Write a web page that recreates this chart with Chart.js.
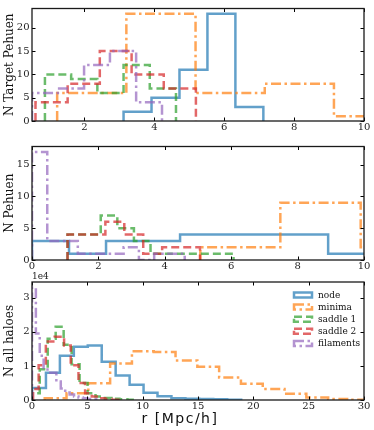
<!DOCTYPE html>
<html>
<head>
<meta charset="utf-8">
<script src="https://cdn.jsdelivr.net/npm/chart.js@4.4.1/dist/chart.umd.min.js"></script>
<style>
  html, body { margin: 0; padding: 0; background: #fff; }
  #wrap { position: relative; width: 374px; height: 430px; overflow: hidden; }
  canvas { position: absolute; left: 0; }
</style>
</head>
<body>
<div id="wrap">
  <canvas id="c1" width="374" height="140" style="top:0px"></canvas>
  <canvas id="c2" width="374" height="137" style="top:138px"></canvas>
  <canvas id="c3" width="374" height="162" style="top:268px"></canvas>
</div>
<script>
// series names (legend order)
const seriesNames = ['node', 'minima', 'saddle 1', 'saddle 2', 'filaments'];

// panel 1 : N Target Pehuen
const p1NodeEdges = [3.12, 3.92, 4.72, 5.52, 6.32, 7.12];
const p1NodeCounts = [2, 5, 11, 23, 3];
const p1MinimaEdges = [1.22, 3.2, 5.18, 7.16, 9.14, 11.12];
const p1MinimaCounts = [6, 23, 6, 8, 1];
const p1Saddle1Edges = [0.87, 1.62, 2.37, 3.12, 3.87, 4.62];
const p1Saddle1Counts = [10, 9, 6, 12, 7];
const p1Saddle2Edges = [0.6, 1.52, 2.44, 3.35, 4.27, 5.19];
const p1Saddle2Counts = [4, 8, 15, 10, 7];
const p1FilamentEdges = [0.5, 1.24, 1.99, 2.73, 3.48, 4.22];
const p1FilamentCounts = [6, 7, 12, 15, 4];

// panel 2 : N Pehuen
const p2NodeEdges = [0, 1.115, 2.23, 3.345, 4.46, 5.575, 6.69, 7.805, 8.92, 10.035];
const p2NodeCounts = [3, 1, 3, 3, 4, 4, 4, 4, 1];
const p2MinimaEdges = [5.07, 7.48, 9.9, 12.31];
const p2MinimaCounts = [2, 9, 2];
const p2Saddle1Edges = [1.07, 1.57, 2.07, 2.57, 3.07, 3.57, 4.07, 4.57, 5.07, 5.57, 6.07];
const p2Saddle1Counts = [4, 4, 7, 5, 3, 1, 1, 1, 1, 1];
const p2Saddle2Edges = [1.07, 1.64, 2.21, 2.78, 3.35, 3.92, 4.49, 5.06];
const p2Saddle2Counts = [4, 4, 6, 4, 1, 2, 2];
const p2FilamentEdges = [0, 0.46, 0.92, 1.38, 1.84, 2.3, 2.76, 3.22, 3.68, 4.14, 4.6];
const p2FilamentCounts = [17, 3, 3, 1, 1, 1, 2, 0, 1, 1];

// panel 3 : N all haloes (units of 1e4)
const p3NodeEdges = [0, 1.26, 2.52, 3.78, 5.04, 6.3, 7.56, 8.82, 10.08, 11.34, 12.6, 13.86, 15.12, 16.38, 17.64, 18.9];
const p3NodeCounts = [0.35, 0.8, 1.3, 1.56, 1.6, 1.12, 0.72, 0.45, 0.21, 0.11, 0.05, 0.04, 0.03, 0.02, 0.01];
const p3MinimaEdges = [1.15, 3.12, 5.09, 7.06, 9.03, 11.0, 12.97, 14.94, 16.91, 18.88, 20.85, 22.82, 24.79, 26.76, 28.73, 30.7];
const p3MinimaCounts = [0.05, 0.2, 0.49, 1.07, 1.43, 1.41, 1.16, 0.98, 0.66, 0.48, 0.32, 0.18, 0.07, 0.03, 0.01];
const p3Saddle1Edges = [0, 0.7, 1.42, 2.14, 2.86, 3.58, 4.3, 5.02, 5.74, 6.46, 7.18, 7.9, 8.62, 9.34];
const p3Saddle1Counts = [0.2, 0.9, 1.8, 2.15, 1.62, 1.05, 0.5, 0.2, 0.1, 0.06, 0.04, 0.02, 0.01];
const p3Saddle2Edges = [0.1, 0.6, 1.25, 2.05, 2.9, 3.5, 4.2, 4.8, 5.4, 6.0, 6.6, 7.2, 7.8];
const p3Saddle2Counts = [0.32, 1.02, 1.72, 1.86, 1.6, 1.02, 0.5, 0.2, 0.1, 0.05, 0.03, 0.01];
const p3FilamentEdges = [0, 0.35, 0.7, 1.05, 1.4, 1.8, 2.2, 2.6, 3.0, 3.4, 3.8, 4.2, 4.6, 5.0, 5.4, 5.8];
const p3FilamentCounts = [3.3, 1.95, 1.3, 0.95, 0.8, 0.8, 0.54, 0.34, 0.22, 0.16, 0.1, 0.07, 0.05, 0.03, 0.02];

// tick labels
const p1XTicks = [2, 4, 6, 8, 10];
const p1YTicks = [0, 5, 10, 15, 20];
const p2XTicks = [0, 2, 4, 6, 8, 10];
const p2YTicks = [0, 5, 10, 15];
const p3XTicks = [0, 5, 10, 15, 20, 25, 30];
const p3YTicks = [0, 1, 2, 3];

// line styles, one per series
const styles = [
  { color: 'rgba(31,119,180,0.7)', dash: [] },
  { color: 'rgba(255,127,14,0.7)', dash: [10, 3.5, 2.5, 3.5] },
  { color: 'rgba(44,160,44,0.7)', dash: [8, 4] },
  { color: 'rgba(214,39,40,0.7)', dash: [8, 4] },
  { color: 'rgba(148,103,189,0.7)', dash: [10, 3.5, 2.5, 3.5] }
];

const serif = 'DejaVu Serif';

// outline of a step histogram
function stepPoints(edges, counts) {
  const pts = [{ x: edges[0], y: 0 }];
  counts.forEach((c, i) => {
    pts.push({ x: edges[i], y: c });
    pts.push({ x: edges[i + 1], y: c });
  });
  pts.push({ x: edges[edges.length - 1], y: 0 });
  return pts;
}

// frame + inward ticks on all four sides
const frame = {
  id: 'frame',
  afterDatasetsDraw(chart) {
    const { ctx, chartArea: a, scales } = chart;
    ctx.save();
    ctx.strokeStyle = '#000';
    ctx.lineWidth = 1;
    ctx.beginPath();
    scales.x.ticks.forEach(t => {
      const px = Math.round(scales.x.getPixelForValue(t.value)) + 0.5;
      ctx.moveTo(px, a.bottom); ctx.lineTo(px, a.bottom - 3.5);
      ctx.moveTo(px, a.top); ctx.lineTo(px, a.top + 3.5);
    });
    scales.y.ticks.forEach(t => {
      const py = Math.round(scales.y.getPixelForValue(t.value)) + 0.5;
      ctx.moveTo(a.left, py); ctx.lineTo(a.left + 3.5, py);
      ctx.moveTo(a.right, py); ctx.lineTo(a.right - 3.5, py);
    });
    ctx.stroke();
    ctx.lineWidth = 1.3;
    ctx.strokeStyle = '#1a1a1a';
    ctx.strokeRect(a.left, a.top, a.right - a.left, a.bottom - a.top);
    ctx.restore();
  }
};

// legend inside the bottom panel, offset text and x label
const extras = {
  id: 'extras',
  afterDraw(chart) {
    const { ctx, chartArea: a } = chart;
    ctx.save();
    ctx.fillStyle = '#222';
    ctx.font = '9px "' + serif + '"';
    ctx.textBaseline = 'bottom';
    ctx.textAlign = 'left';
    ctx.fillText('1e4', a.left, a.top - 0.5);

    ctx.font = '9px "' + serif + '"';
    ctx.textBaseline = 'middle';
    seriesNames.forEach((name, i) => {
      const y = a.top + 13 + i * 12.1;
      const x0 = a.right - 70;
      ctx.strokeStyle = styles[i].color;
      ctx.lineWidth = 2.5;
      ctx.setLineDash(styles[i].dash);
      ctx.strokeRect(x0, y - 2.5, 18, 5);
      ctx.setLineDash([]);
      ctx.fillStyle = '#111';
      ctx.fillText(name, a.right - 46, y + 0.5);
    });

    ctx.font = '14px "DejaVu Sans"';
    ctx.fillStyle = '#111';
    ctx.textAlign = 'center';
    ctx.textBaseline = 'middle';
    if ('letterSpacing' in ctx) ctx.letterSpacing = '1.5px';
    ctx.fillText('r [Mpc/h]', 180, a.bottom + 19);
    ctx.restore();
  }
};

function makePanel(id, series, opt) {
  const datasets = series.map((s, i) => ({
    label: seriesNames[i],
    data: stepPoints(s[0], s[1]),
    borderColor: styles[i].color,
    borderDash: styles[i].dash,
    borderWidth: 2.5,
    borderCapStyle: 'butt',
    borderJoinStyle: 'miter',
    pointRadius: 0,
    tension: 0,
    fill: false,
    clip: 0,
    order: 5 - i
  }));
  return new Chart(document.getElementById(id), {
    type: 'line',
    data: { datasets },
    options: {
      responsive: false,
      animation: false,
      devicePixelRatio: 1,
      layout: { padding: { left: 0, right: 10, top: opt.padTop, bottom: 0 } },
      plugins: { legend: { display: false }, tooltip: { enabled: false } },
      scales: {
        x: {
          type: 'linear',
          min: opt.xMin, max: opt.xMax,
          grid: { display: false, drawTicks: false },
          border: { display: false },
          afterBuildTicks: s => { s.ticks = opt.xTicks.map(v => ({ value: v })); },
          afterFit: s => { s.height = opt.xHeight; },
          ticks: { color: '#222', padding: opt.xPad, maxRotation: 0, font: { family: serif, size: 10 } }
        },
        y: {
          min: 0, max: opt.yMax,
          grid: { display: false, drawTicks: false },
          border: { display: false },
          afterBuildTicks: s => { s.ticks = opt.yTicks.map(v => ({ value: v })); },
          afterFit: s => { s.width = 32; },
          ticks: { color: '#222', padding: 2.5, font: { family: serif, size: 10 } },
          title: { display: true, text: opt.yTitle, color: '#111', padding: { top: 3, bottom: 0 }, font: { family: serif, size: 12 } }
        }
      }
    },
    plugins: opt.extra ? [frame, extras] : [frame]
  });
}

makePanel('c1', [
  [p1NodeEdges, p1NodeCounts], [p1MinimaEdges, p1MinimaCounts], [p1Saddle1Edges, p1Saddle1Counts],
  [p1Saddle2Edges, p1Saddle2Counts], [p1FilamentEdges, p1FilamentCounts]
], { xMin: 0.5, xMax: 10, yMax: 24.15, xTicks: p1XTicks, yTicks: p1YTicks, padTop: 4, xHeight: 19, xPad: 0.5, yTitle: 'N Target Pehuen' });

makePanel('c2', [
  [p2NodeEdges, p2NodeCounts], [p2MinimaEdges, p2MinimaCounts], [p2Saddle1Edges, p2Saddle1Counts],
  [p2Saddle2Edges, p2Saddle2Counts], [p2FilamentEdges, p2FilamentCounts]
], { xMin: 0, xMax: 10, yMax: 17.85, xTicks: p2XTicks, yTicks: p2YTicks, padTop: 5, xHeight: 15, xPad: 0.5, yTitle: 'N Pehuen' });

makePanel('c3', [
  [p3NodeEdges, p3NodeCounts], [p3MinimaEdges, p3MinimaCounts], [p3Saddle1Edges, p3Saddle1Counts],
  [p3Saddle2Edges, p3Saddle2Counts], [p3FilamentEdges, p3FilamentCounts]
], { xMin: 0, xMax: 30, yMax: 3.465, xTicks: p3XTicks, yTicks: p3YTicks, padTop: 14, xHeight: 30, xPad: 0, yTitle: 'N all haloes', extra: true });
</script>
</body>
</html>
